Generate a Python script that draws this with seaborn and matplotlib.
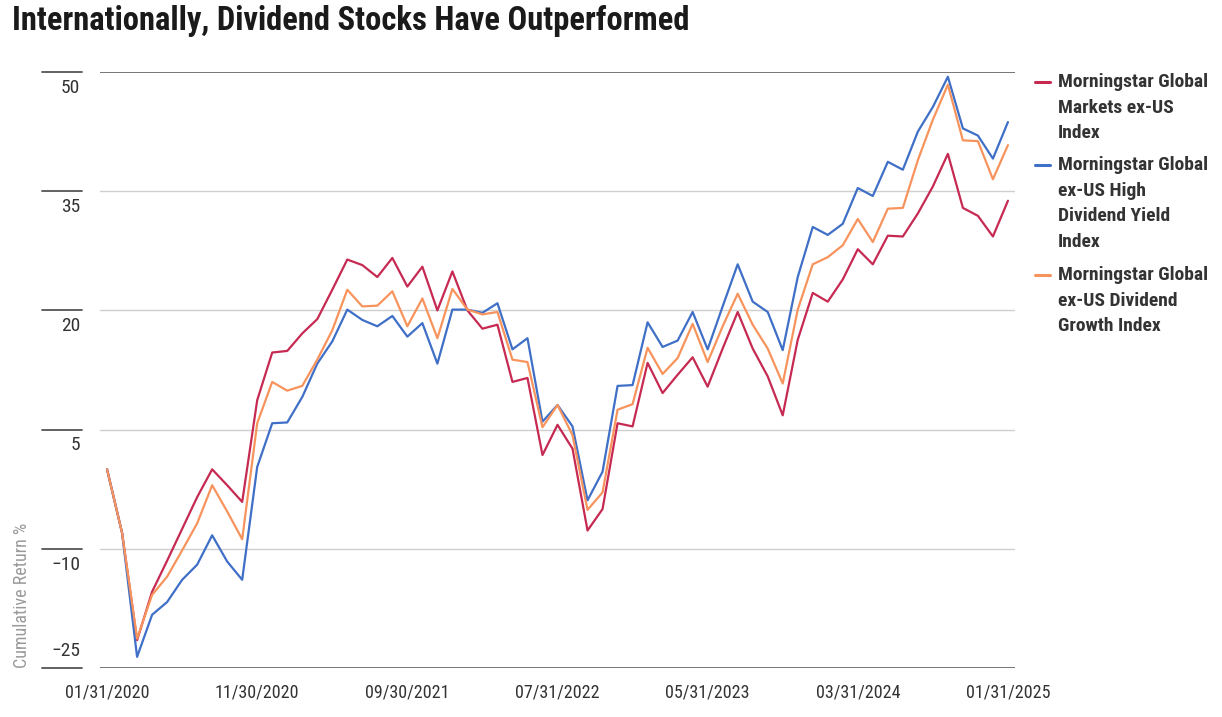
import numpy as np
import pandas as pd
import seaborn as sns
import matplotlib
matplotlib.use("Agg")
from matplotlib import pyplot as plt
from matplotlib import font_manager
from matplotlib.lines import Line2D
import matplotlib.transforms as mtransforms

# ---- data (cumulative return %, month-end) ----
month_labels = ["01/31/2020", "11/30/2020", "09/30/2021", "07/31/2022",
                "05/31/2023", "03/31/2024", "01/31/2025"]
months = np.arange(61)

markets_ex_us = [0.0, -8.0, -21.5, -15.4, -11.5, -7.5, -3.5, 0.0, -2.0, -4.1,
                 8.7, 14.7, 14.9, 17.1, 18.9, 22.6, 26.4, 25.7, 24.2, 26.6,
                 23.0, 25.5, 20.0, 24.9, 20.0, 17.7, 18.2, 11.0, 11.5, 1.8,
                 5.6, 2.6, -7.7, -5.0, 5.8, 5.4, 13.4, 9.6, 11.9, 14.1,
                 10.4, 15.2, 19.8, 15.2, 11.7, 6.8, 16.3, 22.2, 21.1, 23.9,
                 27.7, 25.8, 29.4, 29.3, 32.2, 35.6, 39.7, 32.9, 31.9, 29.3,
                 33.8]
high_dividend = [0.0, -8.0, -23.6, -18.3, -16.7, -13.9, -12.0, -8.3, -11.6, -13.9,
                 0.3, 5.8, 5.9, 9.1, 13.3, 16.1, 20.1, 18.8, 18.0, 19.3,
                 16.7, 18.4, 13.3, 20.1, 20.1, 19.7, 20.9, 15.1, 16.5, 6.0,
                 8.1, 5.4, -3.9, -0.3, 10.5, 10.6, 18.5, 15.4, 16.2, 19.8,
                 15.1, 20.5, 25.8, 21.1, 19.8, 15.0, 24.2, 30.5, 29.5, 30.9,
                 35.4, 34.4, 38.7, 37.7, 42.5, 45.6, 49.4, 42.9, 42.0, 39.1,
                 43.7]
dividend_growth = [0.0, -8.0, -21.3, -15.8, -13.5, -10.2, -6.8, -2.0, -5.3, -8.8,
                   5.8, 11.0, 9.9, 10.5, 13.8, 17.5, 22.6, 20.5, 20.6, 22.4,
                   18.0, 21.5, 16.5, 22.7, 20.1, 19.5, 19.8, 13.8, 13.5, 5.3,
                   8.1, 4.3, -5.1, -2.9, 7.5, 8.2, 15.3, 12.0, 14.0, 18.3,
                   13.5, 18.0, 22.1, 18.2, 15.2, 10.8, 20.1, 25.8, 26.7, 28.2,
                   31.5, 28.6, 32.8, 32.9, 38.9, 44.0, 48.4, 41.4, 41.3, 36.5,
                   40.8]

names = ["Morningstar Global\nMarkets ex-US\nIndex",
         "Morningstar Global\nex-US High\nDividend Yield\nIndex",
         "Morningstar Global\nex-US Dividend\nGrowth Index"]
colors = ["#c62a52", "#3f6fc6", "#f7935c"]
y_ticks = [-25, -10, 5, 20, 35, 50]

df = pd.DataFrame({"month": np.tile(months, 3),
                   "ret": markets_ex_us + high_dividend + dividend_growth,
                   "index": np.repeat(names, len(months))})

sns.set_style("white")
avail = {f.name for f in font_manager.fontManager.ttflist}
narrow = next((f for f in ["Liberation Sans Narrow", "Roboto Condensed",
                           "Open Sans Condensed", "Roboto"] if f in avail), "DejaVu Sans")
plt.rcParams["font.family"] = [narrow, "DejaVu Sans"]

W, H = 1222, 717
fig = plt.figure(figsize=(W / 100, H / 100), dpi=100)
# axes box in pixels: x 100..1015, y 72..668
ax = fig.add_axes([100 / W, 1 - 668 / H, 915 / W, (668 - 72) / H])

sns.lineplot(data=df, x="month", y="ret", hue="index", hue_order=names,
             palette=dict(zip(names, colors)), linewidth=1.6, ax=ax,
             legend=False, zorder=3)

ax.set_xlim(-0.47, 60.47)
ax.set_ylim(-25, 50)
for s in ax.spines.values():
    s.set_visible(False)

for v in y_ticks:
    edge = v in (-25, 50)
    ax.axhline(v, color="#6b6b6b" if edge else "#cfcfcf",
               lw=1.3 if edge else 1.0, zorder=1)

# short tick bars left of the plot and labels under them (bottom one above)
blend = mtransforms.blended_transform_factory(ax.transAxes, ax.transData)
for v in y_ticks:
    ax.add_line(Line2D([-58 / 915, -18 / 915], [v, v], transform=blend,
                       color="#555555", lw=1.3, clip_on=False))
    lab = str(v).replace("-", "\u2212")
    off = 2.2 if v == -25 else -2.0
    ax.text(-20 / 915, v + off, lab, transform=blend, ha="right",
            va="center", fontsize=14, color="#333333")
ax.set_yticks([])
ax.set_ylabel("")

ax.set_xticks(range(0, 61, 10))
ax.set_xticklabels(month_labels, fontsize=13, color="#333333")
ax.tick_params(axis="x", length=0, pad=11)
ax.set_xlabel("")

fig.text(22 / W, 1 - 668 / H, "Cumulative Return %", rotation=90,
         ha="center", va="bottom", fontsize=13, color="#9a9a9a")

fig.text(12 / W, 1 - 5 / H, "Internationally, Dividend Stocks Have Outperformed",
         ha="left", va="top", fontsize=23.5, fontweight="bold", color="#1a1a1a")

# legend drawn by hand so markers sit on the first text line
leg_y = [82, 165, 275]
for name, c, yy in zip(names, colors, leg_y):
    fig.add_artist(Line2D([1035 / W, 1050 / W], [1 - yy / H, 1 - yy / H],
                          color=c, lw=2.2))
    fig.text(1058 / W, 1 - (yy - 9) / H, name, ha="left", va="top",
             fontsize=14, fontweight="bold", color="#333333", linespacing=1.55)

fig.savefig("out.png", dpi=100)
